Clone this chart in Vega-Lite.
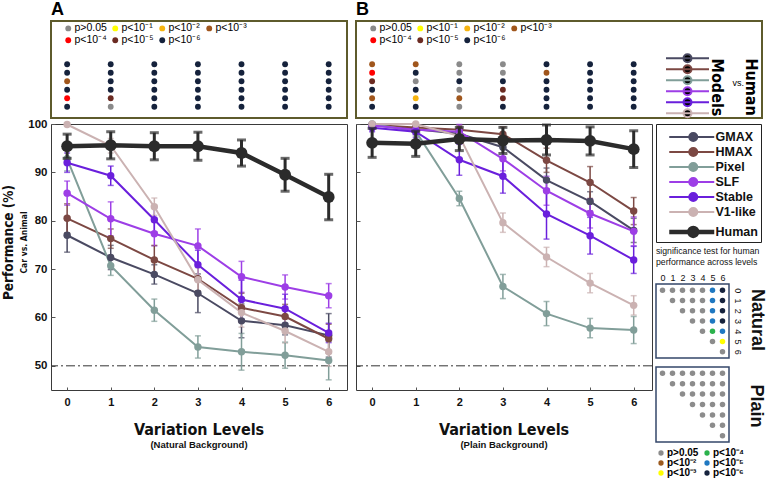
{
"$schema": "https://vega.github.io/schema/vega-lite/v6.json",
"name": "fig",
"padding": {"left": 1, "top": 0, "right": 0, "bottom": 0},
"config": {"font": "Liberation Sans", "axis": {"grid": false, "domain": false}, "legend": {"labelFont": "Liberation Sans"}},
"datasets": {
"perf": [
{"panel":"A","model":"GMAX","level":0,"perf":77.0,"lo":73.5,"hi":80.5},
{"panel":"A","model":"GMAX","level":1,"perf":72.4,"lo":69.9,"hi":74.9},
{"panel":"A","model":"GMAX","level":2,"perf":68.9,"lo":66.9,"hi":70.9},
{"panel":"A","model":"GMAX","level":3,"perf":65.0,"lo":61.0,"hi":69.0},
{"panel":"A","model":"GMAX","level":4,"perf":59.3,"lo":55.8,"hi":62.8},
{"panel":"A","model":"GMAX","level":5,"perf":58.4,"lo":56.4,"hi":60.4},
{"panel":"A","model":"GMAX","level":6,"perf":56.3,"lo":51.8,"hi":60.8},
{"panel":"A","model":"HMAX","level":0,"perf":80.5,"lo":77.5,"hi":83.5},
{"panel":"A","model":"HMAX","level":1,"perf":76.3,"lo":74.3,"hi":78.3},
{"panel":"A","model":"HMAX","level":2,"perf":71.9,"lo":68.9,"hi":74.9},
{"panel":"A","model":"HMAX","level":3,"perf":68.0,"lo":65.5,"hi":70.5},
{"panel":"A","model":"HMAX","level":4,"perf":62.0,"lo":59.0,"hi":65.0},
{"panel":"A","model":"HMAX","level":5,"perf":60.2,"lo":57.7,"hi":62.7},
{"panel":"A","model":"HMAX","level":6,"perf":55.6,"lo":52.6,"hi":58.6},
{"panel":"A","model":"Pixel","level":0,"perf":92.8,"lo":90.3,"hi":95.3},
{"panel":"A","model":"Pixel","level":1,"perf":70.7,"lo":68.7,"hi":72.7},
{"panel":"A","model":"Pixel","level":2,"perf":61.5,"lo":59.2,"hi":63.8},
{"panel":"A","model":"Pixel","level":3,"perf":53.9,"lo":51.6,"hi":56.2},
{"panel":"A","model":"Pixel","level":4,"perf":52.9,"lo":49.1,"hi":56.7},
{"panel":"A","model":"Pixel","level":5,"perf":52.2,"lo":49.5,"hi":54.9},
{"panel":"A","model":"Pixel","level":6,"perf":51.1,"lo":47.1,"hi":55.1},
{"panel":"A","model":"SLF","level":0,"perf":85.7,"lo":83.2,"hi":88.2},
{"panel":"A","model":"SLF","level":1,"perf":80.4,"lo":76.9,"hi":83.9},
{"panel":"A","model":"SLF","level":2,"perf":77.3,"lo":74.8,"hi":79.8},
{"panel":"A","model":"SLF","level":3,"perf":74.8,"lo":71.3,"hi":78.3},
{"panel":"A","model":"SLF","level":4,"perf":68.4,"lo":65.2,"hi":71.6},
{"panel":"A","model":"SLF","level":5,"perf":66.3,"lo":63.8,"hi":68.8},
{"panel":"A","model":"SLF","level":6,"perf":64.5,"lo":62.0,"hi":67.0},
{"panel":"A","model":"Stable","level":0,"perf":92.0,"lo":90.0,"hi":94.0},
{"panel":"A","model":"Stable","level":1,"perf":89.3,"lo":87.3,"hi":91.3},
{"panel":"A","model":"Stable","level":2,"perf":80.2,"lo":77.7,"hi":82.7},
{"panel":"A","model":"Stable","level":3,"perf":70.9,"lo":67.9,"hi":73.9},
{"panel":"A","model":"Stable","level":4,"perf":63.7,"lo":59.7,"hi":67.7},
{"panel":"A","model":"Stable","level":5,"perf":61.8,"lo":58.8,"hi":64.8},
{"panel":"A","model":"Stable","level":6,"perf":56.8,"lo":54.8,"hi":58.8},
{"panel":"A","model":"V1-like","level":0,"perf":99.9,"lo":99.6,"hi":100},
{"panel":"A","model":"V1-like","level":1,"perf":95.5,"lo":94.0,"hi":97.0},
{"panel":"A","model":"V1-like","level":2,"perf":82.9,"lo":81.1,"hi":84.7},
{"panel":"A","model":"V1-like","level":3,"perf":67.8,"lo":65.3,"hi":70.3},
{"panel":"A","model":"V1-like","level":4,"perf":61.0,"lo":58.0,"hi":64.0},
{"panel":"A","model":"V1-like","level":5,"perf":57.2,"lo":54.7,"hi":59.7},
{"panel":"A","model":"V1-like","level":6,"perf":52.9,"lo":49.9,"hi":55.9},
{"panel":"A","model":"Human","level":0,"perf":95.4,"lo":92.9,"hi":97.9},
{"panel":"A","model":"Human","level":1,"perf":95.6,"lo":92.8,"hi":98.4},
{"panel":"A","model":"Human","level":2,"perf":95.4,"lo":92.6,"hi":98.2},
{"panel":"A","model":"Human","level":3,"perf":95.4,"lo":92.5,"hi":98.3},
{"panel":"A","model":"Human","level":4,"perf":94.0,"lo":91.3,"hi":96.7},
{"panel":"A","model":"Human","level":5,"perf":89.5,"lo":86.1,"hi":92.9},
{"panel":"A","model":"Human","level":6,"perf":84.9,"lo":80.2,"hi":89.6},
{"panel":"B","model":"GMAX","level":0,"perf":99.8,"lo":99.3,"hi":100},
{"panel":"B","model":"GMAX","level":1,"perf":98.9,"lo":97.9,"hi":99.9},
{"panel":"B","model":"GMAX","level":2,"perf":98.0,"lo":96.5,"hi":99.5},
{"panel":"B","model":"GMAX","level":3,"perf":95.2,"lo":93.2,"hi":97.2},
{"panel":"B","model":"GMAX","level":4,"perf":88.4,"lo":85.9,"hi":90.9},
{"panel":"B","model":"GMAX","level":5,"perf":84.0,"lo":82.0,"hi":86.0},
{"panel":"B","model":"GMAX","level":6,"perf":78.0,"lo":75.5,"hi":80.5},
{"panel":"B","model":"HMAX","level":0,"perf":99.8,"lo":99.3,"hi":100},
{"panel":"B","model":"HMAX","level":1,"perf":99.3,"lo":98.3,"hi":100},
{"panel":"B","model":"HMAX","level":2,"perf":98.8,"lo":97.8,"hi":99.8},
{"panel":"B","model":"HMAX","level":3,"perf":97.9,"lo":96.4,"hi":99.4},
{"panel":"B","model":"HMAX","level":4,"perf":92.5,"lo":90.0,"hi":95.0},
{"panel":"B","model":"HMAX","level":5,"perf":87.9,"lo":84.6,"hi":91.2},
{"panel":"B","model":"HMAX","level":6,"perf":82.0,"lo":79.2,"hi":84.8},
{"panel":"B","model":"Pixel","level":0,"perf":100,"lo":99.7,"hi":100},
{"panel":"B","model":"Pixel","level":1,"perf":98.5,"lo":97.5,"hi":99.5},
{"panel":"B","model":"Pixel","level":2,"perf":84.6,"lo":83.1,"hi":86.1},
{"panel":"B","model":"Pixel","level":3,"perf":66.4,"lo":63.9,"hi":68.9},
{"panel":"B","model":"Pixel","level":4,"perf":60.8,"lo":58.3,"hi":63.3},
{"panel":"B","model":"Pixel","level":5,"perf":57.8,"lo":55.8,"hi":59.8},
{"panel":"B","model":"Pixel","level":6,"perf":57.4,"lo":54.6,"hi":60.2},
{"panel":"B","model":"SLF","level":0,"perf":99.7,"lo":99.2,"hi":100},
{"panel":"B","model":"SLF","level":1,"perf":98.8,"lo":97.8,"hi":99.8},
{"panel":"B","model":"SLF","level":2,"perf":98.4,"lo":96.9,"hi":99.9},
{"panel":"B","model":"SLF","level":3,"perf":92.8,"lo":90.3,"hi":95.3},
{"panel":"B","model":"SLF","level":4,"perf":86.2,"lo":83.2,"hi":89.2},
{"panel":"B","model":"SLF","level":5,"perf":81.5,"lo":78.5,"hi":84.5},
{"panel":"B","model":"SLF","level":6,"perf":77.8,"lo":74.8,"hi":80.8},
{"panel":"B","model":"Stable","level":0,"perf":99.2,"lo":98.4,"hi":100},
{"panel":"B","model":"Stable","level":1,"perf":98.4,"lo":97.2,"hi":99.6},
{"panel":"B","model":"Stable","level":2,"perf":92.6,"lo":89.4,"hi":95.8},
{"panel":"B","model":"Stable","level":3,"perf":89.2,"lo":85.7,"hi":92.7},
{"panel":"B","model":"Stable","level":4,"perf":81.4,"lo":76.2,"hi":86.6},
{"panel":"B","model":"Stable","level":5,"perf":76.9,"lo":73.1,"hi":80.7},
{"panel":"B","model":"Stable","level":6,"perf":71.9,"lo":69.1,"hi":74.7},
{"panel":"B","model":"V1-like","level":0,"perf":100,"lo":99.8,"hi":100},
{"panel":"B","model":"V1-like","level":1,"perf":100,"lo":99.7,"hi":100},
{"panel":"B","model":"V1-like","level":2,"perf":97.5,"lo":96.5,"hi":98.5},
{"panel":"B","model":"V1-like","level":3,"perf":79.6,"lo":77.6,"hi":81.6},
{"panel":"B","model":"V1-like","level":4,"perf":72.5,"lo":70.5,"hi":74.5},
{"panel":"B","model":"V1-like","level":5,"perf":67.1,"lo":65.1,"hi":69.1},
{"panel":"B","model":"V1-like","level":6,"perf":62.5,"lo":60.5,"hi":64.5},
{"panel":"B","model":"Human","level":0,"perf":96.1,"lo":93.1,"hi":99.1},
{"panel":"B","model":"Human","level":1,"perf":95.9,"lo":93.3,"hi":98.5},
{"panel":"B","model":"Human","level":2,"perf":96.9,"lo":94.5,"hi":99.3},
{"panel":"B","model":"Human","level":3,"perf":96.6,"lo":93.9,"hi":99.3},
{"panel":"B","model":"Human","level":4,"perf":96.7,"lo":93.6,"hi":99.8},
{"panel":"B","model":"Human","level":5,"perf":96.5,"lo":93.6,"hi":99.4},
{"panel":"B","model":"Human","level":6,"perf":94.8,"lo":91.0,"hi":98.6}
],
"sig": [
{"panel":"A","model":"GMAX","level":0,"sig":"p<10⁻⁶"},{"panel":"A","model":"GMAX","level":1,"sig":"p<10⁻⁶"},{"panel":"A","model":"GMAX","level":2,"sig":"p<10⁻⁶"},{"panel":"A","model":"GMAX","level":3,"sig":"p<10⁻⁶"},{"panel":"A","model":"GMAX","level":4,"sig":"p<10⁻⁶"},{"panel":"A","model":"GMAX","level":5,"sig":"p<10⁻⁶"},{"panel":"A","model":"GMAX","level":6,"sig":"p<10⁻⁶"},
{"panel":"A","model":"HMAX","level":0,"sig":"p<10⁻⁶"},{"panel":"A","model":"HMAX","level":1,"sig":"p<10⁻⁶"},{"panel":"A","model":"HMAX","level":2,"sig":"p<10⁻⁶"},{"panel":"A","model":"HMAX","level":3,"sig":"p<10⁻⁶"},{"panel":"A","model":"HMAX","level":4,"sig":"p<10⁻⁶"},{"panel":"A","model":"HMAX","level":5,"sig":"p<10⁻⁶"},{"panel":"A","model":"HMAX","level":6,"sig":"p<10⁻⁶"},
{"panel":"A","model":"Pixel","level":0,"sig":"p<10⁻³"},{"panel":"A","model":"Pixel","level":1,"sig":"p<10⁻⁶"},{"panel":"A","model":"Pixel","level":2,"sig":"p<10⁻⁶"},{"panel":"A","model":"Pixel","level":3,"sig":"p<10⁻⁶"},{"panel":"A","model":"Pixel","level":4,"sig":"p<10⁻⁶"},{"panel":"A","model":"Pixel","level":5,"sig":"p<10⁻⁶"},{"panel":"A","model":"Pixel","level":6,"sig":"p<10⁻⁶"},
{"panel":"A","model":"SLF","level":0,"sig":"p<10⁻⁶"},{"panel":"A","model":"SLF","level":1,"sig":"p<10⁻⁶"},{"panel":"A","model":"SLF","level":2,"sig":"p<10⁻⁶"},{"panel":"A","model":"SLF","level":3,"sig":"p<10⁻⁶"},{"panel":"A","model":"SLF","level":4,"sig":"p<10⁻⁶"},{"panel":"A","model":"SLF","level":5,"sig":"p<10⁻⁶"},{"panel":"A","model":"SLF","level":6,"sig":"p<10⁻⁶"},
{"panel":"A","model":"Stable","level":0,"sig":"p<10⁻⁴"},{"panel":"A","model":"Stable","level":1,"sig":"p<10⁻⁵"},{"panel":"A","model":"Stable","level":2,"sig":"p<10⁻⁶"},{"panel":"A","model":"Stable","level":3,"sig":"p<10⁻⁶"},{"panel":"A","model":"Stable","level":4,"sig":"p<10⁻⁶"},{"panel":"A","model":"Stable","level":5,"sig":"p<10⁻⁶"},{"panel":"A","model":"Stable","level":6,"sig":"p<10⁻⁶"},
{"panel":"A","model":"V1-like","level":0,"sig":"p<10⁻⁶"},{"panel":"A","model":"V1-like","level":1,"sig":"p>0.05"},{"panel":"A","model":"V1-like","level":2,"sig":"p<10⁻⁶"},{"panel":"A","model":"V1-like","level":3,"sig":"p<10⁻⁶"},{"panel":"A","model":"V1-like","level":4,"sig":"p<10⁻⁶"},{"panel":"A","model":"V1-like","level":5,"sig":"p<10⁻⁶"},{"panel":"A","model":"V1-like","level":6,"sig":"p<10⁻⁶"},
{"panel":"B","model":"GMAX","level":0,"sig":"p<10⁻³"},{"panel":"B","model":"GMAX","level":1,"sig":"p<10⁻³"},{"panel":"B","model":"GMAX","level":2,"sig":"p>0.05"},{"panel":"B","model":"GMAX","level":3,"sig":"p>0.05"},{"panel":"B","model":"GMAX","level":4,"sig":"p<10⁻⁶"},{"panel":"B","model":"GMAX","level":5,"sig":"p<10⁻⁶"},{"panel":"B","model":"GMAX","level":6,"sig":"p<10⁻⁶"},
{"panel":"B","model":"HMAX","level":0,"sig":"p<10⁻⁴"},{"panel":"B","model":"HMAX","level":1,"sig":"p<10⁻⁶"},{"panel":"B","model":"HMAX","level":2,"sig":"p>0.05"},{"panel":"B","model":"HMAX","level":3,"sig":"p>0.05"},{"panel":"B","model":"HMAX","level":4,"sig":"p<10⁻³"},{"panel":"B","model":"HMAX","level":5,"sig":"p<10⁻⁶"},{"panel":"B","model":"HMAX","level":6,"sig":"p<10⁻⁶"},
{"panel":"B","model":"Pixel","level":0,"sig":"p<10⁻⁵"},{"panel":"B","model":"Pixel","level":1,"sig":"p>0.05"},{"panel":"B","model":"Pixel","level":2,"sig":"p<10⁻⁶"},{"panel":"B","model":"Pixel","level":3,"sig":"p<10⁻⁶"},{"panel":"B","model":"Pixel","level":4,"sig":"p<10⁻⁶"},{"panel":"B","model":"Pixel","level":5,"sig":"p<10⁻⁶"},{"panel":"B","model":"Pixel","level":6,"sig":"p<10⁻⁶"},
{"panel":"B","model":"SLF","level":0,"sig":"p<10⁻⁶"},{"panel":"B","model":"SLF","level":1,"sig":"p<10⁻⁶"},{"panel":"B","model":"SLF","level":2,"sig":"p>0.05"},{"panel":"B","model":"SLF","level":3,"sig":"p<10⁻⁵"},{"panel":"B","model":"SLF","level":4,"sig":"p<10⁻⁶"},{"panel":"B","model":"SLF","level":5,"sig":"p<10⁻⁶"},{"panel":"B","model":"SLF","level":6,"sig":"p<10⁻⁶"},
{"panel":"B","model":"Stable","level":0,"sig":"p<10⁻³"},{"panel":"B","model":"Stable","level":1,"sig":"p<10⁻²"},{"panel":"B","model":"Stable","level":2,"sig":"p<10⁻³"},{"panel":"B","model":"Stable","level":3,"sig":"p<10⁻⁵"},{"panel":"B","model":"Stable","level":4,"sig":"p<10⁻⁶"},{"panel":"B","model":"Stable","level":5,"sig":"p<10⁻⁶"},{"panel":"B","model":"Stable","level":6,"sig":"p<10⁻⁶"},
{"panel":"B","model":"V1-like","level":0,"sig":"p<10⁻⁶"},{"panel":"B","model":"V1-like","level":1,"sig":"p<10⁻⁶"},{"panel":"B","model":"V1-like","level":2,"sig":"p>0.05"},{"panel":"B","model":"V1-like","level":3,"sig":"p<10⁻⁶"},{"panel":"B","model":"V1-like","level":4,"sig":"p<10⁻⁶"},{"panel":"B","model":"V1-like","level":5,"sig":"p<10⁻⁶"},{"panel":"B","model":"V1-like","level":6,"sig":"p<10⁻⁶"}
],
"models": [{"model":"GMAX"},{"model":"HMAX"},{"model":"Pixel"},{"model":"SLF"},{"model":"Stable"},{"model":"V1-like"},{"model":"Human"}],
"matrix": [
{"bg":"Natural","row":0,"col":0,"sig":"p>0.05"},{"bg":"Natural","row":0,"col":1,"sig":"p>0.05"},{"bg":"Natural","row":0,"col":2,"sig":"p>0.05"},{"bg":"Natural","row":0,"col":3,"sig":"p>0.05"},{"bg":"Natural","row":0,"col":4,"sig":"p>0.05"},{"bg":"Natural","row":0,"col":5,"sig":"p<10⁻⁵"},{"bg":"Natural","row":0,"col":6,"sig":"p<10⁻⁶"},
{"bg":"Natural","row":1,"col":1,"sig":"p>0.05"},{"bg":"Natural","row":1,"col":2,"sig":"p>0.05"},{"bg":"Natural","row":1,"col":3,"sig":"p>0.05"},{"bg":"Natural","row":1,"col":4,"sig":"p>0.05"},{"bg":"Natural","row":1,"col":5,"sig":"p<10⁻⁵"},{"bg":"Natural","row":1,"col":6,"sig":"p<10⁻⁶"},
{"bg":"Natural","row":2,"col":2,"sig":"p>0.05"},{"bg":"Natural","row":2,"col":3,"sig":"p>0.05"},{"bg":"Natural","row":2,"col":4,"sig":"p>0.05"},{"bg":"Natural","row":2,"col":5,"sig":"p<10⁻⁵"},{"bg":"Natural","row":2,"col":6,"sig":"p<10⁻⁶"},
{"bg":"Natural","row":3,"col":3,"sig":"p>0.05"},{"bg":"Natural","row":3,"col":4,"sig":"p>0.05"},{"bg":"Natural","row":3,"col":5,"sig":"p<10⁻⁵"},{"bg":"Natural","row":3,"col":6,"sig":"p<10⁻⁶"},
{"bg":"Natural","row":4,"col":4,"sig":"p>0.05"},{"bg":"Natural","row":4,"col":5,"sig":"p<10⁻⁴"},{"bg":"Natural","row":4,"col":6,"sig":"p<10⁻⁵"},
{"bg":"Natural","row":5,"col":5,"sig":"p>0.05"},{"bg":"Natural","row":5,"col":6,"sig":"p<10⁻³"},
{"bg":"Natural","row":6,"col":6,"sig":"p>0.05"},
{"bg":"Plain","row":0,"col":0,"sig":"p>0.05"},{"bg":"Plain","row":0,"col":1,"sig":"p>0.05"},{"bg":"Plain","row":0,"col":2,"sig":"p>0.05"},{"bg":"Plain","row":0,"col":3,"sig":"p>0.05"},{"bg":"Plain","row":0,"col":4,"sig":"p>0.05"},{"bg":"Plain","row":0,"col":5,"sig":"p>0.05"},{"bg":"Plain","row":0,"col":6,"sig":"p>0.05"},
{"bg":"Plain","row":1,"col":1,"sig":"p>0.05"},{"bg":"Plain","row":1,"col":2,"sig":"p>0.05"},{"bg":"Plain","row":1,"col":3,"sig":"p>0.05"},{"bg":"Plain","row":1,"col":4,"sig":"p>0.05"},{"bg":"Plain","row":1,"col":5,"sig":"p>0.05"},{"bg":"Plain","row":1,"col":6,"sig":"p>0.05"},
{"bg":"Plain","row":2,"col":2,"sig":"p>0.05"},{"bg":"Plain","row":2,"col":3,"sig":"p>0.05"},{"bg":"Plain","row":2,"col":4,"sig":"p>0.05"},{"bg":"Plain","row":2,"col":5,"sig":"p>0.05"},{"bg":"Plain","row":2,"col":6,"sig":"p>0.05"},
{"bg":"Plain","row":3,"col":3,"sig":"p>0.05"},{"bg":"Plain","row":3,"col":4,"sig":"p>0.05"},{"bg":"Plain","row":3,"col":5,"sig":"p>0.05"},{"bg":"Plain","row":3,"col":6,"sig":"p>0.05"},
{"bg":"Plain","row":4,"col":4,"sig":"p>0.05"},{"bg":"Plain","row":4,"col":5,"sig":"p>0.05"},{"bg":"Plain","row":4,"col":6,"sig":"p>0.05"},
{"bg":"Plain","row":5,"col":5,"sig":"p>0.05"},{"bg":"Plain","row":5,"col":6,"sig":"p>0.05"},
{"bg":"Plain","row":6,"col":6,"sig":"p>0.05"}
]
},
"spacing": 7,
"resolve": {"scale": {"color": "independent", "stroke": "independent"}, "legend": {"color": "independent", "stroke": "independent"}},
"hconcat": [
{
"vconcat": [
{
"width": 296, "height": 97,
"view": {"stroke": "#5e5b2c", "strokeWidth": 2},
"title": {"text": "A", "anchor": "start", "fontSize": 18, "fontWeight": "bold", "offset": 2, "color": "#000"},
"data": {"name": "sig"},
"transform": [{"filter": "datum.panel === 'A'"}],
"mark": {"type": "circle", "size": 34, "opacity": 1},
"encoding": {
"x": {"field": "level", "type": "quantitative", "scale": {"domain": [-0.37, 6.42], "nice": false, "zero": false}, "axis": null},
"y": {"field": "model", "type": "nominal", "scale": {"type": "point", "domain": ["GMAX","HMAX","Pixel","SLF","Stable","V1-like"], "range": [39, 90]}, "axis": null},
"color": {"field": "sig", "type": "nominal",
"scale": {"domain": ["p>0.05","p<10⁻¹","p<10⁻²","p<10⁻³","p<10⁻⁴","p<10⁻⁵","p<10⁻⁶"], "range": ["#8a8a8a","#ffff00","#f6b40f","#a0561c","#ff0000","#6b2b22","#15223c"]},
"legend": {"orient": "none", "legendX": 12, "legendY": 2, "title": null, "columns": 4, "direction": "horizontal", "symbolType": "circle", "symbolSize": 34, "symbolStrokeWidth": 0, "labelFontSize": 10.5, "labelOffset": 1, "columnPadding": 3, "rowPadding": 1, "padding": 0,
"encode": {"labels": {"update": {"fill": {"signal": "['#8a8a8a','#f2e600','#f4b20c','#9c561c','#ee1111','#5f2a22','#17253f'][indexof(['p>0.05','p<10⁻¹','p<10⁻²','p<10⁻³','p<10⁻⁴','p<10⁻⁵','p<10⁻⁶'], datum.value)]"}, "fontWeight": {"signal": "datum.value === 'p>0.05' ? 'normal' : 'bold'"}}}}
}
}
}
},
{
"width": 296, "height": 266,
"view": {"stroke": "#3a3a3a", "strokeWidth": 1},
"title": {"text": "Variation Levels", "subtitle": "(Natural Background)", "orient": "bottom", "frame": "group", "anchor": "middle", "offset": 15, "font": "Liberation Sans Narrow, DejaVu Sans Condensed, Liberation Sans", "fontSize": 16, "fontWeight": "bold", "color": "#111", "subtitleFont": "Liberation Sans", "subtitleFontSize": 9.5, "subtitleFontWeight": "bold", "subtitleColor": "#111", "subtitlePadding": 2},
"layer": [
{
"data": {"values": [{"chance": 50}]},
"mark": {"type": "rule", "strokeDash": [9, 3, 2, 3], "color": "#333", "strokeWidth": 1},
"encoding": {"y": {"field": "chance", "type": "quantitative", "title": "Performance (%)", "scale": {"domain": [45, 100], "nice": false, "zero": false}}}
},
{
"data": {"name": "perf"},
"transform": [{"filter": "datum.panel === 'A'"}],
"encoding": {
"x": {"field": "level", "type": "quantitative", "scale": {"domain": [-0.37, 6.42], "nice": false, "zero": false},
"axis": {"values": [0,1,2,3,4,5,6], "format": "d", "title": "Car vs. Animal", "titleFont": "Liberation Sans Narrow, DejaVu Sans Condensed, Liberation Sans", "titleFontSize": 8.5, "titleFontWeight": "bold", "titleColor": "#111", "titleX": -24.3, "titleY": -148, "titleAngle": -90, "titleBaseline": "alphabetic", "titleAlign": "center", "labelFontSize": 11, "labelFontWeight": "bold", "labelColor": "#111", "labelPadding": 9, "tickSize": -3, "tickColor": "#555", "domain": false, "grid": false, "labelFlush": false}},
"y": {"field": "perf", "type": "quantitative", "scale": {"domain": [45, 100], "nice": false, "zero": false},
"axis": {"values": [50,60,70,80,90,100], "title": "Performance (%)", "titleFont": "Liberation Sans Narrow, DejaVu Sans Condensed, Liberation Sans", "titleFontSize": 13.5, "titleFontWeight": "bold", "titleColor": "#111", "titleX": -38.3, "titleY": 118, "titleBaseline": "alphabetic", "titleAlign": "center", "titleAngle": -90, "labelFontSize": 11.5, "labelFontWeight": "bold", "labelColor": "#111", "labelPadding": 8, "tickSize": -4, "tickColor": "#555", "domain": false, "grid": false}},
"color": {"field": "model", "type": "nominal", "scale": {"domain": ["GMAX","HMAX","Pixel","SLF","Stable","V1-like","Human"], "range": ["#4a4a62","#7c4843","#819e99","#9d3ee6","#6a1fdc","#cbb2b2","#2b2b2b"]}, "legend": null}
},
"layer": [
{"transform": [{"filter": "datum.model !== 'Human'"}], "mark": {"type": "errorbar", "ticks": true, "size": 6, "thickness": 1.5},
"encoding": {"y": {"field": "lo", "type": "quantitative", "title": "Performance (%)"}, "y2": {"field": "hi"}}},
{"transform": [{"filter": "datum.model !== 'Human'"}], "mark": {"type": "line", "strokeWidth": 2}},
{"transform": [{"filter": "datum.model !== 'Human'"}], "mark": {"type": "point", "filled": true, "size": 55, "opacity": 1}},
{"transform": [{"filter": "datum.model === 'Human'"}], "mark": {"type": "errorbar", "ticks": true, "size": 9, "thickness": 3},
"encoding": {"y": {"field": "lo", "type": "quantitative", "title": "Performance (%)"}, "y2": {"field": "hi"}}},
{"transform": [{"filter": "datum.model === 'Human'"}], "mark": {"type": "line", "strokeWidth": 4.5}},
{"transform": [{"filter": "datum.model === 'Human'"}], "mark": {"type": "point", "filled": true, "size": 140, "opacity": 1}}
]
}
]
}
],
"spacing": 6,
"bounds": "flush",
"resolve": {"scale": {"color": "independent"}, "legend": {"color": "independent"}}
},
{
"vconcat": [
{
"width": 406, "height": 97,
"view": {"stroke": "#5e5b2c", "strokeWidth": 2},
"title": {"text": "B", "anchor": "start", "fontSize": 18, "fontWeight": "bold", "offset": 2, "color": "#000"},
"data": {"name": "sig"},
"transform": [{"filter": "datum.panel === 'B'"}],
"mark": {"type": "circle", "size": 34, "opacity": 1, "strokeWidth": 0},
"encoding": {
"x": {"field": "level", "type": "quantitative", "scale": {"domain": [-0.37, 8.944], "nice": false, "zero": false},
"axis": {"orient": "bottom", "labels": false, "ticks": false, "domain": false, "grid": false, "title": "Models", "titleFont": "Liberation Sans Narrow, DejaVu Sans Condensed, Liberation Sans", "titleFontSize": 16, "titleFontWeight": "bold", "titleColor": "#000", "titleX": 355.7, "titleY": -31, "titleAngle": 90, "titleBaseline": "alphabetic", "titleAlign": "center"}},
"y": {"field": "model", "type": "nominal", "scale": {"type": "point", "domain": ["GMAX","HMAX","Pixel","SLF","Stable","V1-like"], "range": [39, 90]},
"axis": {"orient": "right", "labels": false, "ticks": false, "domain": false, "grid": false, "title": "Human", "titleFont": "Liberation Sans Narrow, DejaVu Sans Condensed, Liberation Sans", "titleFontSize": 16, "titleFontWeight": "bold", "titleColor": "#000", "titleX": -17, "titleY": 65.5, "titleAngle": 90, "titleBaseline": "alphabetic", "titleAlign": "center"}},
"color": {"field": "sig", "type": "nominal",
"scale": {"domain": ["p>0.05","p<10⁻¹","p<10⁻²","p<10⁻³","p<10⁻⁴","p<10⁻⁵","p<10⁻⁶"], "range": ["#8a8a8a","#ffff00","#f6b40f","#a0561c","#ff0000","#6b2b22","#15223c"]},
"legend": {"orient": "none", "legendX": 12, "legendY": 2, "title": null, "columns": 4, "direction": "horizontal", "symbolType": "circle", "symbolSize": 34, "symbolStrokeWidth": 0, "labelFontSize": 10.5, "labelOffset": 1, "columnPadding": 3, "rowPadding": 1, "padding": 0,
"encode": {"labels": {"update": {"fill": {"signal": "['#8a8a8a','#f2e600','#f4b20c','#9c561c','#ee1111','#5f2a22','#17253f'][indexof(['p>0.05','p<10⁻¹','p<10⁻²','p<10⁻³','p<10⁻⁴','p<10⁻⁵','p<10⁻⁶'], datum.value)]"}, "fontWeight": {"signal": "datum.value === 'p>0.05' ? 'normal' : 'bold'"}}}}
}
},
"stroke": {"field": "model", "type": "nominal",
"scale": {"domain": ["GMAX","HMAX","Pixel","SLF","Stable","V1-like"], "range": ["#4a4a62","#7c4843","#819e99","#9d3ee6","#6a1fdc","#cbb2b2"]},
"legend": {"orient": "none", "legendX": 328.5, "legendY": 34.3, "title": "vs.", "titleOrient": "right", "titleAngle": 90, "titleAnchor": "middle", "titleBaseline": "bottom", "titleFontSize": 9, "titleFontWeight": "normal", "titleColor": "#000", "titlePadding": 19, "direction": "vertical", "symbolType": "M-10.75,0H10.75M2,0A2,2,0,1,1,-2,0A2,2,0,1,1,2,0", "symbolSize": 16, "symbolStrokeWidth": 2, "symbolOpacity": 1, "labelFontSize": 4, "labelOpacity": 0, "rowPadding": -5, "padding": 0,
"encode": {"symbols": {"update": {"fill": {"signal": "['#4a4a62','#7c4843','#819e99','#9d3ee6','#6a1fdc','#cbb2b2','#2b2b2b'][indexof(['GMAX','HMAX','Pixel','SLF','Stable','V1-like','Human'], datum.value)]"}, "stroke": {"signal": "['#4a4a62','#7c4843','#819e99','#9d3ee6','#6a1fdc','#cbb2b2','#2b2b2b'][indexof(['GMAX','HMAX','Pixel','SLF','Stable','V1-like','Human'], datum.value)]"}, "strokeWidth": {"value": 2}, "opacity": {"value": 1}}}}
}
}
}
},
{
"hconcat": [
{
"width": 296, "height": 266,
"view": {"stroke": "#3a3a3a", "strokeWidth": 1},
"title": {"text": "Variation Levels", "subtitle": "(Plain Background)", "orient": "bottom", "frame": "group", "anchor": "middle", "offset": 15, "font": "Liberation Sans Narrow, DejaVu Sans Condensed, Liberation Sans", "fontSize": 16, "fontWeight": "bold", "color": "#111", "subtitleFont": "Liberation Sans", "subtitleFontSize": 9.5, "subtitleFontWeight": "bold", "subtitleColor": "#111", "subtitlePadding": 2},
"layer": [
{
"data": {"values": [{"chance": 50}]},
"mark": {"type": "rule", "strokeDash": [9, 3, 2, 3], "color": "#333", "strokeWidth": 1},
"encoding": {"y": {"field": "chance", "type": "quantitative", "title": null, "scale": {"domain": [45, 100], "nice": false, "zero": false}}}
},
{
"data": {"name": "perf"},
"transform": [{"filter": "datum.panel === 'B'"}],
"encoding": {
"x": {"field": "level", "type": "quantitative", "scale": {"domain": [-0.37, 6.42], "nice": false, "zero": false},
"axis": {"values": [0,1,2,3,4,5,6], "format": "d", "title": null, "labelFontSize": 11, "labelFontWeight": "bold", "labelColor": "#111", "labelPadding": 9, "tickSize": -3, "tickColor": "#555", "domain": false, "grid": false, "labelFlush": false}},
"y": {"field": "perf", "type": "quantitative", "scale": {"domain": [45, 100], "nice": false, "zero": false},
"axis": {"values": [50,60,70,80,90,100], "title": null, "labels": false, "tickSize": -4, "tickColor": "#555", "domain": false, "grid": false}},
"color": {"field": "model", "type": "nominal", "scale": {"domain": ["GMAX","HMAX","Pixel","SLF","Stable","V1-like","Human"], "range": ["#4a4a62","#7c4843","#819e99","#9d3ee6","#6a1fdc","#cbb2b2","#2b2b2b"]}, "legend": null}
},
"layer": [
{"transform": [{"filter": "datum.model !== 'Human'"}], "mark": {"type": "errorbar", "ticks": true, "size": 6, "thickness": 1.5},
"encoding": {"y": {"field": "lo", "type": "quantitative", "title": null}, "y2": {"field": "hi"}}},
{"transform": [{"filter": "datum.model !== 'Human'"}], "mark": {"type": "line", "strokeWidth": 2}},
{"transform": [{"filter": "datum.model !== 'Human'"}], "mark": {"type": "point", "filled": true, "size": 55, "opacity": 1}},
{"transform": [{"filter": "datum.model === 'Human'"}], "mark": {"type": "errorbar", "ticks": true, "size": 9, "thickness": 3},
"encoding": {"y": {"field": "lo", "type": "quantitative", "title": null}, "y2": {"field": "hi"}}},
{"transform": [{"filter": "datum.model === 'Human'"}], "mark": {"type": "line", "strokeWidth": 4.5}},
{"transform": [{"filter": "datum.model === 'Human'"}], "mark": {"type": "point", "filled": true, "size": 140, "opacity": 1}}
]
}
]
},
{
"vconcat": [
{
"width": 105, "height": 118,
"view": {"stroke": "#222", "strokeWidth": 1},
"data": {"name": "models"},
"mark": {"type": "point", "filled": true, "size": 0, "opacity": 0},
"encoding": {
"color": {"field": "model", "type": "nominal", "scale": {"domain": ["GMAX","HMAX","Pixel","SLF","Stable","V1-like","Human"], "range": ["#4a4a62","#7c4843","#819e99","#9d3ee6","#6a1fdc","#cbb2b2","#2b2b2b"]},
"legend": {"orient": "none", "legendX": 31, "legendY": 6.75, "title": null, "direction": "vertical", "symbolType": "M-12,0H10.5M2,0A2,2,0,1,1,-2,0A2,2,0,1,1,2,0", "symbolSize": 16, "symbolStrokeWidth": 2, "symbolOpacity": 1, "labelFontSize": 12.5, "labelFontWeight": "bold", "labelColor": "#111", "labelOffset": 16, "rowPadding": -2.1, "padding": 0,
"encode": {"symbols": {"update": {"fill": {"signal": "['#4a4a62','#7c4843','#819e99','#9d3ee6','#6a1fdc','#cbb2b2','#2b2b2b'][indexof(['GMAX','HMAX','Pixel','SLF','Stable','V1-like','Human'], datum.value)]"}, "stroke": {"signal": "['#4a4a62','#7c4843','#819e99','#9d3ee6','#6a1fdc','#cbb2b2','#2b2b2b'][indexof(['GMAX','HMAX','Pixel','SLF','Stable','V1-like','Human'], datum.value)]"}, "strokeWidth": {"signal": "datum.value === 'Human' ? 4.5 : 2"}, "opacity": {"value": 1}}}}
}
}
}
},
{
"vconcat": [
{
"width": 73, "height": 74,
"view": {"stroke": "#34476a", "strokeWidth": 1.5},
"title": {"text": ["significance test for human", "performance across levels"], "anchor": "start", "fontSize": 8.7, "fontWeight": "normal", "offset": 6, "lineHeight": 11, "color": "#111"},
"data": {"name": "matrix"},
"transform": [{"filter": "datum.bg === 'Natural'"}],
"mark": {"type": "circle", "size": 30, "opacity": 1},
"encoding": {
"x": {"field": "col", "type": "ordinal", "scale": {"type": "point", "padding": 0.65, "domain": [0,1,2,3,4,5,6]}, "axis": {"orient": "top", "labelAngle": 0, "ticks": false, "domain": false, "labelPadding": 2, "labelFontSize": 9, "title": null, "labelColor": "#111"}},
"y": {"field": "row", "type": "ordinal", "scale": {"type": "point", "padding": 0.6, "domain": [0,1,2,3,4,5,6]}, "axis": {"orient": "right", "labelAngle": 90, "ticks": false, "domain": false, "labelPadding": 3, "labelFontSize": 9, "labelColor": "#111", "title": "Natural", "titleFontSize": 18, "titleFontWeight": "bold", "titleColor": "#111", "titleX": 22.7, "titleY": 35.5, "titleAngle": 90, "titleBaseline": "alphabetic", "titleAlign": "center"}},
"color": {"field": "sig", "type": "nominal", "scale": {"domain": ["p>0.05","p<10⁻⁴","p<10⁻²","p<10⁻⁵","p<10⁻³","p<10⁻⁶"], "range": ["#8c8c8c","#2bb24c","#9c5a1e","#1f78c1","#ffff00","#16233d"]}, "legend": null}
}
},
{
"width": 73, "height": 75,
"view": {"stroke": "#34476a", "strokeWidth": 1.5},
"data": {"name": "matrix"},
"transform": [{"filter": "datum.bg === 'Plain'"}],
"mark": {"type": "circle", "size": 30, "opacity": 1},
"encoding": {
"x": {"field": "col", "type": "ordinal", "scale": {"type": "point", "padding": 0.65, "domain": [0,1,2,3,4,5,6]}, "axis": null},
"y": {"field": "row", "type": "ordinal", "scale": {"type": "point", "padding": 0.6, "domain": [0,1,2,3,4,5,6]}, "axis": {"orient": "right", "labels": false, "ticks": false, "domain": false, "title": "Plain", "titleFontSize": 18, "titleFontWeight": "bold", "titleColor": "#111", "titleX": 21, "titleY": 38.5, "titleAngle": 90, "titleBaseline": "alphabetic", "titleAlign": "center"}},
"color": {"field": "sig", "type": "nominal", "scale": {"domain": ["p>0.05","p<10⁻⁴","p<10⁻²","p<10⁻⁵","p<10⁻³","p<10⁻⁶"], "range": ["#8c8c8c","#2bb24c","#9c5a1e","#1f78c1","#ffff00","#16233d"]},
"legend": {"orient": "none", "legendX": 0, "legendY": 81, "title": null, "columns": 2, "direction": "horizontal", "symbolType": "circle", "symbolSize": 28, "symbolStrokeWidth": 0, "labelFontSize": 10, "labelFontWeight": "bold", "labelColor": "#000", "labelOffset": 1, "columnPadding": 3, "rowPadding": 0, "padding": 0}}
}
}
],
"spacing": 9,
"bounds": "flush",
"resolve": {"scale": {"color": "independent"}, "legend": {"color": "independent"}}
}
],
"spacing": 42,
"bounds": "flush",
"resolve": {"scale": {"color": "independent"}, "legend": {"color": "independent"}}
}
],
"spacing": 4,
"bounds": "flush",
"resolve": {"scale": {"color": "independent"}, "legend": {"color": "independent"}}
}
],
"spacing": 6,
"bounds": "flush",
"resolve": {"scale": {"color": "independent", "stroke": "independent"}, "legend": {"color": "independent", "stroke": "independent"}}
}
]
}
